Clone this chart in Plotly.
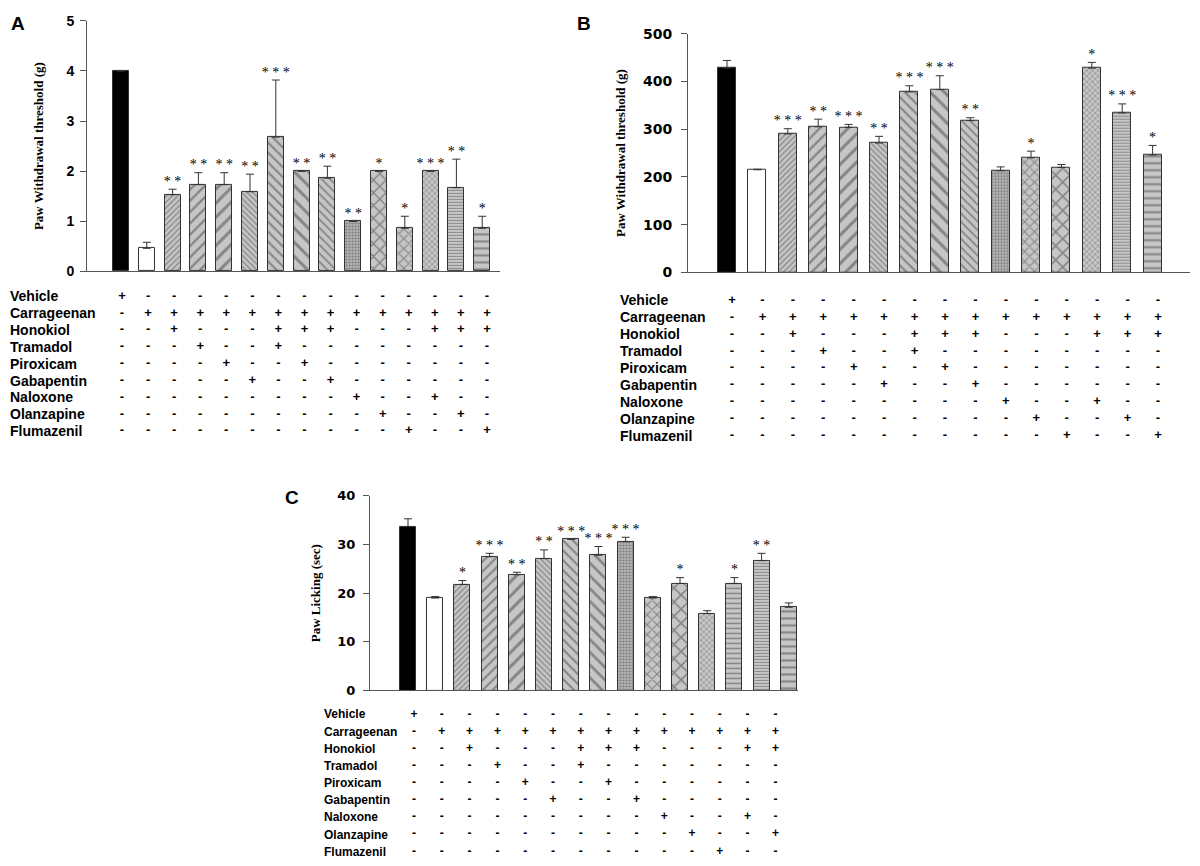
import plotly.graph_objects as go

W, H = 1200, 866

# --- data ---
groups = list(range(15))
treatments = ["Vehicle", "Carrageenan", "Honokiol", "Tramadol", "Piroxicam",
              "Gabapentin", "Naloxone", "Olanzapine", "Flumazenil"]
signs = [
    "+--------------",
    "-++++++++++++++",
    "--+---+++---+++",
    "---+--+--------",
    "----+--+-------",
    "-----+--+------",
    "---------+--+--",
    "----------+--+-",
    "-----------+--+",
]

# A: paw withdrawal threshold (g)
a_mean = [4.0, 0.46, 1.53, 1.73, 1.73, 1.59, 2.68, 2.0, 1.86, 1.0, 2.0, 0.86, 2.0, 1.67, 0.86]
a_sem = [0, 0.12, 0.11, 0.24, 0.24, 0.35, 1.14, 0, 0.24, 0, 0, 0.24, 0, 0.57, 0.24]
a_sig = ["", "", "**", "**", "**", "**", "***", "**", "**", "**", "*", "*", "***", "**", "*"]

# B: paw withdrawal threshold (g)
b_mean = [428, 215, 290, 305, 304, 271, 378, 383, 318, 213, 240, 220, 428, 334, 246]
b_sem = [16, 1, 11, 16, 6, 14, 13, 29, 6, 8, 14, 6, 12, 19, 20]
b_sig = ["", "", "***", "**", "***", "**", "***", "***", "**", "", "*", "", "*", "***", "*"]

# C: paw licking (sec)
c_mean = [33.7, 19.0, 21.8, 27.5, 23.8, 27.1, 31.1, 27.8, 30.6, 19.0, 22.0, 15.8, 22.0, 26.7, 17.1]
c_sem = [1.6, 0.3, 0.8, 0.7, 0.5, 1.8, 0.0, 1.8, 0.9, 0.3, 1.2, 0.6, 1.2, 1.5, 0.9]
c_sig = ["", "", "*", "***", "**", "**", "***", "***", "***", "", "*", "", "*", "**", ""]

# --- styles ---
C_TXT = "#000000"
C_AX = "#555555"
C_GRAY = "#c6c6c6"
C_HATCH = "#3a3a3a"
bar_colors = ["#000000", "#ffffff"] + [C_GRAY] * 13
shapes_ab = ["", "", "/", "/", "/", "\\", "\\", "\\", "\\", ".", "x", "x", "x", "-", "-"]
shapes_c = ["", "", "/", "/", "/", "\\", "\\", "\\", ".", "x", "x", "x", "-", "-", "-"]
sizes_a = [6, 6, 4, 8, 10, 4, 7, 10, 6, 3, 9, 7, 4, 3, 7]
sizes_b = [6, 6, 4, 8, 10, 4, 7, 10, 6, 3, 7, 10, 4, 3, 7]
sizes_c = [6, 6, 4, 7, 10, 4, 7, 9, 3, 7, 10, 4, 5, 3, 7]
solid_ab = [0.3] * 9 + [0.6] + [0.3] * 5
solid_c = [0.3] * 8 + [0.6] + [0.3] * 6

# page offset of the rendered div -> screen pixel to paper fraction
X_OFF, Y_OFF, Y_S = 8, 16.3, 0.979


def fx(p):
    return max(p - X_OFF, 0) / W


def fy(p, lo=0):
    return 1 - max((p - Y_OFF) / Y_S, lo) / H


panels = [
    dict(mean=a_mean, sem=a_sem, sig=a_sig, shapes=shapes_ab, sizes=sizes_a, solid=solid_ab,
         ax_l=87, ax_r=500, y0=271, ytop=14, ymax=5, dtick=1,
         bar0=121, step=25.8, bw=0.62, t_col0=122, t_step=26.07, t_row0=296, t_rstep=16.8,
         t_top=287, t_bot=440, lab_x=8, lab_size=14, sign_size=13,
         title="Paw Withdrawal threshold (g)", t_stand=19, tick_font=("Liberation Sans", 14),
         tick_stand=3, letter="A", lx=18, ly=18),
    dict(mean=b_mean, sem=b_sem, sig=b_sig, shapes=shapes_ab, sizes=sizes_b, solid=solid_ab,
         ax_l=688, ax_r=1190, y0=272, ytop=34, ymax=500, dtick=100,
         bar0=727, step=30.4, bw=0.59, t_col0=732, t_step=30.43, t_row0=300, t_rstep=16.9,
         t_top=291, t_bot=445, lab_x=618, lab_size=14, sign_size=13,
         title="Paw Withdrawal threshold (g)", t_stand=14, tick_font=("DejaVu Sans", 14),
         tick_stand=6, letter="B", lx=584, ly=17),
    dict(mean=c_mean, sem=c_sem, sig=c_sig, shapes=shapes_c, sizes=sizes_c, solid=solid_c,
         ax_l=370, ax_r=798, y0=689, ytop=495, ymax=40, dtick=10,
         bar0=408, step=27.2, bw=0.59, t_col0=414, t_step=27.8, t_row0=713, t_rstep=17.1,
         t_top=704, t_bot=862, lab_x=322, lab_size=12, sign_size=12,
         title="Paw Licking (sec)", t_stand=13, tick_font=("DejaVu Sans", 13),
         tick_stand=5, letter="C", lx=292, ly=497),
]

fig = go.Figure()
annotations = []

for n, p in enumerate(panels, start=1):
    xb, yb = f"x{n}", f"y{2 * n - 1}"
    xt, yt = f"x{n + 3}", f"y{2 * n}"

    # bars + SEM
    fig.add_trace(go.Bar(
        x=groups, y=p["mean"], width=p["bw"], xaxis=xb, yaxis=yb,
        marker=dict(color=bar_colors, line=dict(color="#333333", width=1),
                    pattern=dict(shape=p["shapes"], size=p["sizes"], solidity=p["solid"],
                                 fgcolor=C_HATCH)),
        error_y=dict(type="data", array=p["sem"], symmetric=False, arrayminus=[0] * 15,
                     color="#333333", thickness=1, width=4),
        showlegend=False, hoverinfo="y"))

    # significance stars
    fig.add_trace(go.Scatter(
        x=groups, y=[m + s for m, s in zip(p["mean"], p["sem"])], xaxis=xb, yaxis=yb,
        mode="text", text=[" ".join(s) for s in p["sig"]], textposition="top center",
        textfont=dict(family="Liberation Serif", size=14, color=C_TXT),
        cliponaxis=False, showlegend=False, hoverinfo="skip"))

    # treatment table
    tx, ty, tt = [], [], []
    for k, row in enumerate(signs):
        for i, ch in enumerate(row):
            tx.append(groups[i])
            ty.append(k)
            tt.append("<b>%s</b>" % ch)
        annotations.append(dict(
            x=fx(p["lab_x"]), xref="paper", y=k, yref=yt, text="<b>%s</b>" % treatments[k],
            showarrow=False, xanchor="left", yanchor="middle",
            font=dict(family="Liberation Sans", size=p["lab_size"], color=C_TXT)))
    fig.add_trace(go.Scatter(
        x=tx, y=ty, xaxis=xt, yaxis=yt, mode="text", text=tt, textposition="middle center",
        textfont=dict(family="Liberation Sans", size=p["sign_size"], color=C_TXT),
        cliponaxis=False, showlegend=False, hoverinfo="skip"))

    dom_x = [fx(p["ax_l"]), fx(p["ax_r"])]
    xr = [(p["ax_l"] - p["bar0"]) / p["step"], (p["ax_r"] - p["bar0"]) / p["step"]]
    txr = [(p["ax_l"] - p["t_col0"]) / p["t_step"], (p["ax_r"] - p["t_col0"]) / p["t_step"]]
    tyr = [(p["t_bot"] - p["t_row0"]) / p["t_rstep"], (p["t_top"] - p["t_row0"]) / p["t_rstep"]]

    fig.update_layout({
        f"xaxis{n}": dict(domain=dom_x, range=xr, anchor=yb, showline=True, linecolor=C_AX,
                          linewidth=1, showticklabels=False, ticks="", showgrid=False,
                          zeroline=False),
        f"yaxis{2 * n - 1}": dict(
            domain=[fy(p["y0"]), fy(p["ytop"], lo=5)], range=[0, p["ymax"]], dtick=p["dtick"],
            anchor=xb, showline=True, linecolor=C_AX, linewidth=1, ticks="outside", ticklen=6,
            tickcolor=C_AX, showgrid=False, zeroline=False, ticklabelstandoff=p["tick_stand"],
            tickfont=dict(family=p["tick_font"][0], size=p["tick_font"][1], color=C_TXT,
                          weight="bold"),
            title=dict(text="<b>%s</b>" % p["title"], standoff=p["t_stand"],
                       font=dict(family="Liberation Serif", size=13, color=C_TXT))),
        f"xaxis{n + 3}": dict(domain=dom_x, range=txr, anchor=yt, visible=False),
        f"yaxis{2 * n}": dict(domain=[fy(p["t_bot"]), fy(p["t_top"])], range=tyr,
                              anchor=xt, visible=False),
    })

    annotations.append(dict(
        x=fx(p["lx"]), y=fy(p["ly"], lo=8), xref="paper", yref="paper",
        text="<b>%s</b>" % p["letter"], showarrow=False, xanchor="center", yanchor="middle",
        font=dict(family="Liberation Sans", size=19, color="#000000")))

fig.update_layout(
    width=W, height=H,
    margin=dict(l=0, r=0, t=0, b=0),
    paper_bgcolor="white", plot_bgcolor="white",
    annotations=annotations,
    bargap=0,
)

fig.write_html("out.html")
